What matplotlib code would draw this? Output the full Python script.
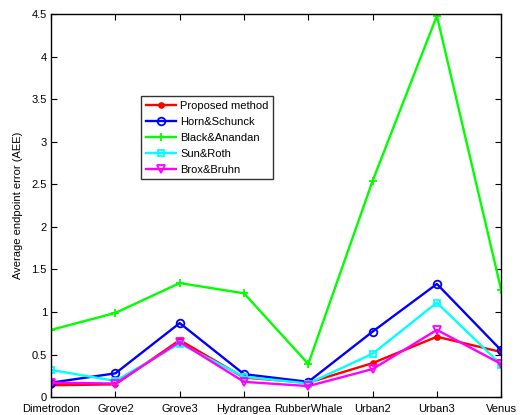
import numpy as np
import matplotlib
matplotlib.use("Agg")
from matplotlib import pyplot as plt

plt.rcParams['font.family'] = ['Liberation Sans', 'DejaVu Sans']

sequences = ["Dimetrodon", "Grove2", "Grove3", "Hydrangea", "RubberWhale",
             "Urban2", "Urban3", "Venus"]

# average endpoint error per sequence
proposed = [0.14, 0.15, 0.67, 0.23, 0.17, 0.40, 0.71, 0.53]
horn_schunck = [0.17, 0.28, 0.87, 0.27, 0.18, 0.77, 1.33, 0.55]
black_anandan = [0.79, 0.99, 1.34, 1.22, 0.39, 2.54, 4.48, 1.26]
sun_roth = [0.32, 0.19, 0.63, 0.24, 0.16, 0.51, 1.11, 0.38]
brox_bruhn = [0.17, 0.16, 0.65, 0.18, 0.13, 0.33, 0.79, 0.39]

x = np.arange(1, len(sequences) + 1)

fig = plt.figure(figsize=(5.27, 4.15), dpi=100)
ax = fig.add_axes([0.097, 0.043, 0.854, 0.923])

lw = 1.7
ax.plot(x, proposed, '-o', color='#ff0000', lw=lw, ms=3.8, label='Proposed method')
ax.plot(x, horn_schunck, '-o', color='#0000ff', lw=lw, ms=5.5, mfc='none', mew=1.3,
        label='Horn&Schunck')
ax.plot(x, black_anandan, '-+', color='#00ff00', lw=lw, ms=6, mew=1.3, label='Black&Anandan')
ax.plot(x, sun_roth, '-s', color='#00ffff', lw=lw, ms=5, mfc='none', mew=1.3,
        label='Sun&Roth')
ax.plot(x, brox_bruhn, '-v', color='#ff00ff', lw=lw, ms=6, mfc='none', mew=1.3,
        label='Brox&Bruhn')

ax.set_xlim(1, len(sequences))
ax.set_ylim(0, 4.5)
ax.set_xticks(x)
ax.set_xticklabels(sequences)
ax.set_yticks(np.arange(0, 4.51, 0.5))
ax.set_yticklabels(['0', '0.5', '1', '1.5', '2', '2.5', '3', '3.5', '4', '4.5'])
ax.tick_params(direction='in', top=True, right=True, labelsize=8, length=4)
ax.tick_params(axis='x', pad=5)
ax.tick_params(axis='y', pad=3)
for s in ax.spines.values():
    s.set_linewidth(1.0)
ax.set_ylabel('Average endpoint error (AEE)', fontsize=8, labelpad=6)

leg = ax.legend(loc='upper left', bbox_to_anchor=(0.2, 0.786), borderaxespad=0,
                fontsize=8, frameon=True, fancybox=False, edgecolor='black',
                handlelength=2.7, borderpad=0.4, labelspacing=0.55, handletextpad=0.4)
leg.get_frame().set_linewidth(1.0)

fig.savefig('out.png', dpi=100)
